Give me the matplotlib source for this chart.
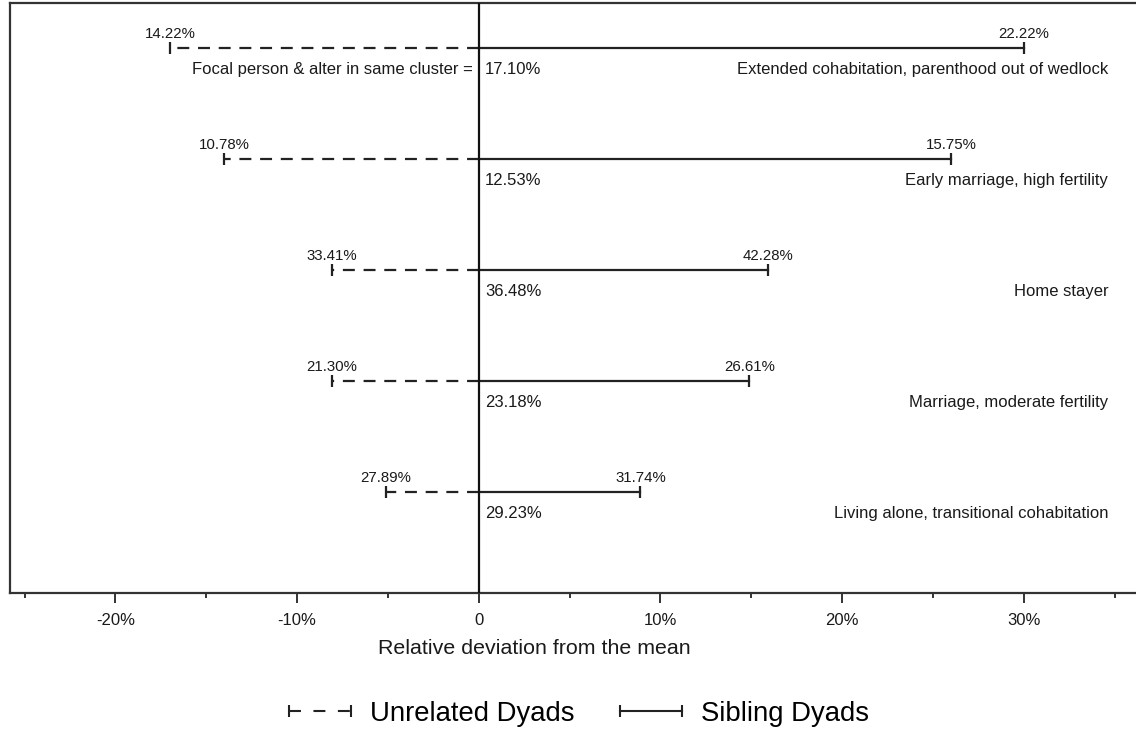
import numpy as np
import matplotlib
matplotlib.use('Agg')
import matplotlib.pyplot as plt
from matplotlib.lines import Line2D

plt.rcParams['font.family'] = ['Liberation Sans', 'DejaVu Sans']
plt.rcParams['lines.scale_dashes'] = False

# clusters, top to bottom
clusters = ['Extended cohabitation, parenthood out of wedlock',
            'Early marriage, high fertility',
            'Home stayer',
            'Marriage, moderate fertility',
            'Living alone, transitional cohabitation']
same_cluster = ['17.10%', '12.53%', '36.48%', '23.18%', '29.23%']
unrelated_pct = ['14.22%', '10.78%', '33.41%', '21.30%', '27.89%']
sibling_pct = ['22.22%', '15.75%', '42.28%', '26.61%', '31.74%']
# relative deviation from the mean (%)
unrelated_dev = [-17.0, -14.0, -8.1, -8.1, -5.1]
sibling_dev = [30.0, 26.0, 15.9, 14.9, 8.9]

tick_vals = [-20, -10, 0, 10, 20, 30]
tick_labels = ['-20%', '-10%', '0', '10%', '20%', '30%']
minor_vals = [-25, -15, -5, 5, 15, 25, 35]

W, H = 1136, 729
fig = plt.figure(figsize=(W/100, H/100), dpi=100)
ax = fig.add_axes([10/W, (H-593)/H, 1130/W, 590/H])

txt = '#1a1a1a'
rows = np.arange(len(clusters))
for r in rows:
    u = unrelated_dev[r]
    s = sibling_dev[r]
    ax.plot([0, u], [r, r], color='#222222', lw=1.6, dashes=(8.6, 6.3),
            marker='|', markevery=[1], markersize=9, mew=1.6,
            solid_capstyle='butt', dash_capstyle='butt')
    ax.plot([0, s], [r, r], color='#222222', lw=1.6,
            marker='|', markevery=[1], markersize=9, mew=1.6)
    ax.annotate(unrelated_pct[r], (u, r), xytext=(0, 7), textcoords='offset points',
                ha='center', va='baseline', fontsize=10.8, color=txt)
    ax.annotate(sibling_pct[r], (s, r), xytext=(0, 7), textcoords='offset points',
                ha='center', va='baseline', fontsize=10.8, color=txt)
    ax.annotate(same_cluster[r], (0, r), xytext=(4.5, -15.5), textcoords='offset points',
                ha='left', va='center', fontsize=12, color=txt)
    ax.annotate(clusters[r], (34.65, r), xytext=(0, -15.5), textcoords='offset points',
                ha='right', va='center', fontsize=12, color=txt)

ax.annotate('Focal person & alter in same cluster =', (0, 0), xytext=(-4.5, -15.5),
            textcoords='offset points', ha='right', va='center', fontsize=12, color=txt)

ax.axvline(0, color='#111111', lw=1.6, zorder=3)

ax.set_xlim(-25.8, 36.4)
ax.set_ylim(4 + 0.91, -0.405)
ax.set_yticks([])
ax.set_xticks(tick_vals)
ax.set_xticklabels(tick_labels, fontsize=12, color=txt)
ax.set_xticks(minor_vals, minor=True)
ax.tick_params(axis='x', which='major', direction='out', length=7.2, width=1.4,
               colors='#333333', labelcolor=txt, pad=7.5)
ax.tick_params(axis='x', which='minor', direction='out', length=3.6, width=1.4,
               colors='#333333')
for sp in ['left', 'top', 'bottom']:
    ax.spines[sp].set_linewidth(1.6)
    ax.spines[sp].set_color('#333333')
ax.spines['right'].set_visible(False)

fig.text(534/W, (H-648)/H, 'Relative deviation from the mean', ha='center', va='center',
         fontsize=15.4, color=txt)

h_unrel = Line2D([], [], color='#222222', lw=1.5, dashes=(8.6, 9), marker='|',
                 markersize=9, mew=1.5)
h_sib = Line2D([], [], color='#222222', lw=1.5, marker='|', markersize=9, mew=1.5)
fig.legend([h_unrel, h_sib], ['Unrelated Dyads', 'Sibling Dyads'], loc='center',
           bbox_to_anchor=(575/W, (H-714)/H), ncol=2, frameon=False, fontsize=19.8,
           numpoints=2, handlelength=2.85, handletextpad=0.4, columnspacing=1.35)

fig.savefig('out.png', dpi=100)
